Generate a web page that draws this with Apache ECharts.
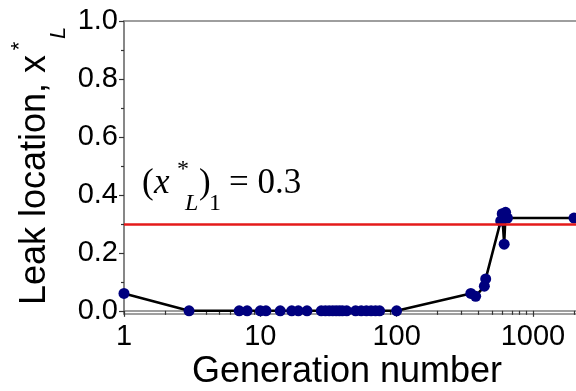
<!DOCTYPE html>
<html>
<head>
<meta charset="utf-8">
<script src="https://cdn.jsdelivr.net/npm/echarts@6/dist/echarts.min.js"></script>
<style>
html,body{margin:0;padding:0;background:#fff;overflow:hidden;width:576px;height:391px;}
#chart{width:600px;height:391px;}
</style>
</head>
<body>
<div id="chart"></div>
<script>
// ---- data ----
const generations = [1, 3, 7, 8, 10, 11, 14, 17, 19, 22, 28, 30, 32, 34, 36, 38, 40, 43,
  50, 55, 60, 65, 70, 75, 100, 350, 380, 440, 450, 580, 595, 615, 630, 650, 2000];
const leakLocation = [0.06, 0.0, 0.0, 0.0, 0.0, 0.0, 0.0, 0.0, 0.0, 0.0, 0.0, 0.0, 0.0, 0.0, 0.0, 0.0, 0.0, 0.0,
  0.0, 0.0, 0.0, 0.0, 0.0, 0.0, 0.0, 0.06, 0.05, 0.085, 0.11, 0.31, 0.335, 0.23, 0.34, 0.32, 0.32];
const thresholdValue = 0.3;
const xMajorTicks = [1, 10, 100, 1000];
const xMinorTicks = [2,3,4,5,6,7,8,9,20,30,40,50,60,70,80,90,200,300,400,500,600,700,800,900,2000];
const yMajorTicks = [0, 0.2, 0.4, 0.6, 0.8, 1.0];
const yMinorTicks = [0.1, 0.3, 0.5, 0.7, 0.9];
const xRange = [1, 3000];
const yRange = [-0.011, 1.0];

const seriesData = generations.map((g, i) => [g, leakLocation[i]]);

const axisGray = '#7f7f7f';
const sans = 'Liberation Sans';

const chart = echarts.init(document.getElementById('chart'), null, {renderer: 'canvas'});
const option = {
  animation: false,
  backgroundColor: '#ffffff',
  grid: {left: 124, top: 21, bottom: 77, right: 2, show: true, borderColor: axisGray, borderWidth: 1.5, backgroundColor: 'transparent'},
  xAxis: [
    {
      type: 'log', logBase: 10, min: xRange[0], max: xRange[1], position: 'bottom',
      axisLine: {show: true, lineStyle: {color: axisGray, width: 1.5}},
      axisTick: {show: true, customValues: xMajorTicks, length: 6, lineStyle: {color: '#333', width: 1.2}},
      axisLabel: {show: true, customValues: xMajorTicks, formatter: v => String(Math.round(v)), fontFamily: sans, fontSize: 29, color: '#000', margin: 8},
      splitLine: {show: false}, minorTick: {show: false}
    },
    {
      type: 'log', logBase: 10, min: xRange[0], max: xRange[1], position: 'bottom', offset: 0,
      axisLine: {show: false},
      axisTick: {show: true, customValues: xMinorTicks, length: 4, lineStyle: {color: '#333', width: 1.2}},
      axisLabel: {show: false},
      splitLine: {show: false}
    }
  ],
  yAxis: [
    {
      type: 'value', min: yRange[0], max: yRange[1], position: 'left',
      axisLine: {show: true, lineStyle: {color: axisGray, width: 1.5}},
      axisTick: {show: true, customValues: yMajorTicks, length: 5, lineStyle: {color: '#333', width: 1.2}},
      axisLabel: {show: true, customValues: yMajorTicks, formatter: v => v.toFixed(1), fontFamily: sans, fontSize: 29, color: '#000', margin: 6},
      splitLine: {show: false}
    },
    {
      type: 'value', min: yRange[0], max: yRange[1], position: 'left', offset: 0,
      axisLine: {show: false},
      axisTick: {show: true, customValues: yMinorTicks, length: 3, lineStyle: {color: '#333', width: 1.2}},
      axisLabel: {show: false},
      splitLine: {show: false}
    }
  ],
  series: [
    {
      type: 'line', data: [], z: 1, silent: true,
      markLine: {
        silent: true, symbol: 'none', label: {show: false},
        lineStyle: {color: '#e41a1a', width: 2.5, type: 'solid'},
        data: [{yAxis: thresholdValue}]
      }
    },
    {
      type: 'line', data: seriesData, z: 3,
      xAxisIndex: 0, yAxisIndex: 0,
      symbol: 'circle', symbolSize: 11, showAllSymbol: true,
      itemStyle: {color: '#00007f'},
      lineStyle: {color: '#000', width: 2.6}
    }
  ],
  graphic: [
    // y-axis title
    {type: 'text', x: 35, y: 180, rotation: Math.PI / 2,
      style: {text: 'Leak location, x', font: '36px "Liberation Sans"', fill: '#000', align: 'center', verticalAlign: 'middle'}},
    {type: 'text', x: 20, y: 46, rotation: Math.PI / 2,
      style: {text: '*', font: '22px "Liberation Sans"', fill: '#000', align: 'center', verticalAlign: 'middle'}},
    {type: 'text', x: 59, y: 33, rotation: Math.PI / 2,
      style: {text: 'L', font: 'italic 22px "Liberation Sans"', fill: '#000', align: 'center', verticalAlign: 'middle'}},
    // x-axis title
    {type: 'text', x: 347, y: 372,
      style: {text: 'Generation number', font: '36px "Liberation Sans"', fill: '#000', align: 'center', verticalAlign: 'middle'}},
    // annotation (x*_L)_1 = 0.3
    {type: 'text', x: 142, y: 184, style: {text: '(', font: '35px "Liberation Serif"', fill: '#000', align: 'left', verticalAlign: 'middle'}},
    {type: 'text', x: 154, y: 184, style: {text: 'x', font: 'italic 35px "Liberation Serif"', fill: '#000', align: 'left', verticalAlign: 'middle'}},
    {type: 'text', x: 177, y: 170, style: {text: '*', font: '24px "Liberation Serif"', fill: '#000', align: 'left', verticalAlign: 'middle'}},
    {type: 'text', x: 185, y: 204, style: {text: 'L', font: 'italic 24px "Liberation Serif"', fill: '#000', align: 'left', verticalAlign: 'middle'}},
    {type: 'text', x: 199, y: 184, style: {text: ')', font: '35px "Liberation Serif"', fill: '#000', align: 'left', verticalAlign: 'middle'}},
    {type: 'text', x: 209, y: 204, style: {text: '1', font: '24px "Liberation Serif"', fill: '#000', align: 'left', verticalAlign: 'middle'}},
    {type: 'text', x: 229, y: 184, style: {text: '= 0.3', font: '35px "Liberation Serif"', fill: '#000', align: 'left', verticalAlign: 'middle'}}
  ]
};
chart.setOption(option);
</script>
</body>
</html>
